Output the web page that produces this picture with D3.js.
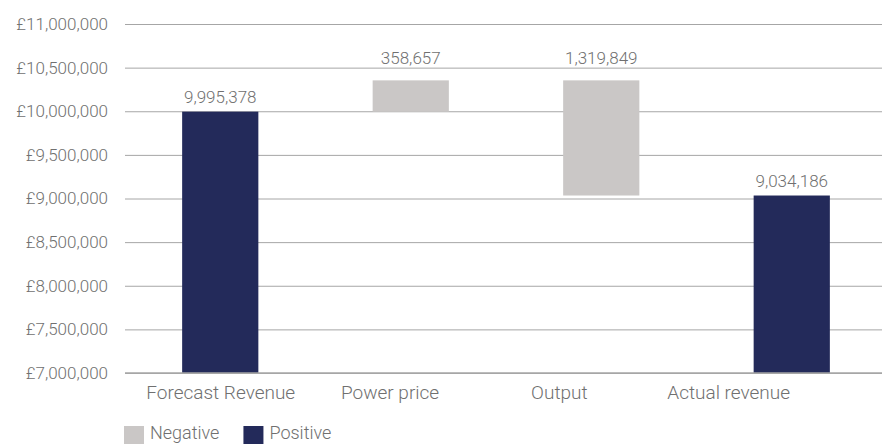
<!DOCTYPE html>
<html>
<head>
<meta charset="utf-8">
<script src="https://cdn.jsdelivr.net/npm/d3@7"></script>
<style>
  html, body { margin: 0; padding: 0; background: #fff; }
  text { font-family: Roboto, "Noto Sans", sans-serif; font-weight: 300; }
</style>
</head>
<body>
<svg id="chart" width="882" height="444"></svg>
<script>
// Waterfall: revenue bridge
const categories = ["Forecast Revenue", "Power price", "Output", "Actual revenue"];
const values = [9995378, 358657, -1319849, 9034186];
const kinds = ["total", "delta", "delta", "total"];
const yTicks = [7000000, 7500000, 8000000, 8500000, 9000000, 9500000, 10000000, 10500000, 11000000];
const legendItems = [
  { label: "Negative", kind: "delta" },
  { label: "Positive", kind: "total" }
];

const colors = { total: "#232a5a", delta: "#cac7c6" };
const textColor = "#707070";
const numSize = 17;
const wordSize = 19;

const svg = d3.select("#chart");
const plot = { left: 125, right: 887, top: 24, bottom: 373 };

// bar extents: totals sit on the axis floor, deltas float from the running total
let running = 0;
const bars = categories.map((c, i) => {
  let lo, hi;
  if (kinds[i] === "total") {
    lo = yTicks[0];
    hi = values[i];
    running = values[i];
  } else {
    const next = running + (i === 1 ? values[i] : 0);
    lo = running;
    hi = next;
    running = next;
  }
  return { cat: c, value: values[i], kind: kinds[i], lo: Math.min(lo, hi), hi: Math.max(lo, hi) };
});
// output drops from the top of the power price bar to the actual revenue
bars[2].hi = bars[1].hi;
bars[2].lo = bars[1].hi + values[2];

const x = d3.scaleBand()
  .domain(categories)
  .range([plot.left, plot.right])
  .paddingInner(0.6)
  .paddingOuter(0.3);

// category labels in the source sit on a tighter spacing than the bars
const firstCenter = x(categories[0]) + x.bandwidth() / 2;
const xLabel = d3.scalePoint()
  .domain(categories)
  .range([firstCenter, firstCenter + 3 * 169.3]);

const y = d3.scaleLinear()
  .domain([yTicks[0], yTicks[yTicks.length - 1]])
  .range([plot.bottom, plot.top]);

// gridlines + y labels
const yAxis = d3.axisLeft(y)
  .tickValues(yTicks)
  .tickSize(-(plot.right - plot.left))
  .tickPadding(17)
  .tickFormat(d => "£" + d3.format(",")(d));

const gy = svg.append("g")
  .attr("transform", `translate(${plot.left},0)`)
  .call(yAxis);
gy.select(".domain").remove();
gy.selectAll("line").attr("stroke", "#a6a6a6").attr("stroke-width", 1);
gy.selectAll("text")
  .attr("fill", textColor)
  .attr("font-size", numSize)
  .style("font-family", "Roboto, sans-serif")
  .style("font-weight", 300);

// bars
svg.selectAll(".bar")
  .data(bars)
  .enter()
  .append("rect")
  .attr("class", "bar")
  .attr("x", d => x(d.cat))
  .attr("width", x.bandwidth())
  .attr("y", d => y(d.hi))
  .attr("height", d => y(d.lo) - y(d.hi))
  .attr("fill", d => colors[d.kind]);

// value labels
svg.selectAll(".val")
  .data(bars)
  .enter()
  .append("text")
  .attr("class", "val")
  .attr("x", d => x(d.cat) + x.bandwidth() / 2)
  .attr("y", d => y(d.hi) - (d.kind === "total" ? 9 : 16))
  .attr("text-anchor", "middle")
  .attr("fill", textColor)
  .attr("font-size", numSize)
  .text(d => d3.format(",")(Math.abs(d.value)));

// baseline
svg.append("line")
  .attr("x1", plot.left).attr("x2", plot.right)
  .attr("y1", plot.bottom).attr("y2", plot.bottom)
  .attr("stroke", "#a6a6a6").attr("stroke-width", 1.5);

// category labels
const xAxis = d3.axisBottom(xLabel).tickSize(0).tickPadding(13);
const gx = svg.append("g")
  .attr("transform", `translate(0,${plot.bottom})`)
  .call(xAxis);
gx.select(".domain").remove();
gx.selectAll("text")
  .attr("fill", textColor)
  .attr("font-size", wordSize)
  .style("font-family", "Roboto, sans-serif")
  .style("font-weight", 300);

// legend
const legend = svg.append("g").attr("transform", "translate(124,426)");
let lx = 0;
legendItems.forEach(item => {
  const g = legend.append("g").attr("transform", `translate(${lx},0)`);
  g.append("rect").attr("width", 20).attr("height", 18).attr("fill", colors[item.kind]);
  const t = g.append("text")
    .attr("x", 26)
    .attr("y", 13)
    .attr("fill", textColor)
    .attr("font-size", 18)
    .text(item.label);
  lx += 26 + t.node().getComputedTextLength() + 24;
});
</script>
</body>
</html>
